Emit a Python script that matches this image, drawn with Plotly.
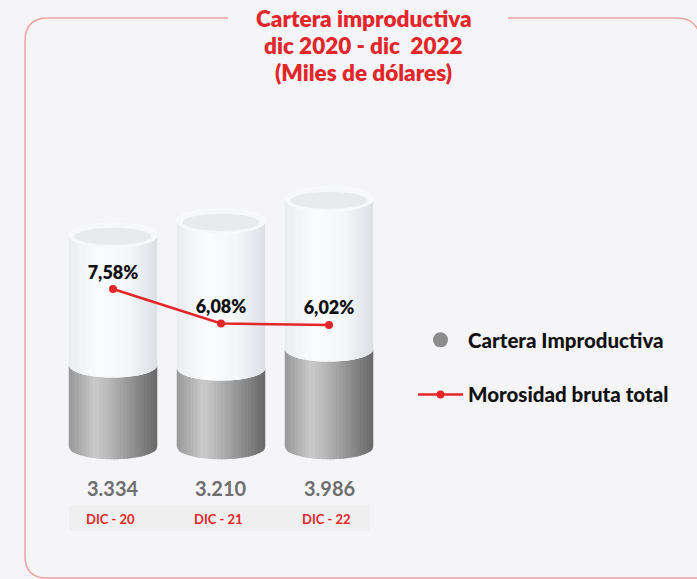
import numpy as np
import plotly.graph_objects as go

# datos (miles de dólares y %)
periodos = ["DIC - 20", "DIC - 21", "DIC - 22"]
cartera = [3334, 3210, 3986]
morosidad = [7.58, 6.08, 6.02]
etiquetas_cartera = ["3.334", "3.210", "3.986"]
etiquetas_morosidad = ["7,58%", "6,08%", "6,02%"]
titulo = ["Cartera improductiva", "dic 2020 - dic  2022", "(Miles de dólares)"]

# estilo de los cilindros (solo decorativo)
alto_cilindro = [8650, 9220, 10120]
rx, ry = 0.41, 500
n_tiras = 26
W, H = 697, 579
ROJO = "#e3262a"

pos = np.arange(len(periodos))


def color_grad(t, stops, cols):
    c = [np.interp(t, stops, [k[i] for k in cols]) for i in range(3)]
    return "rgb(%d,%d,%d)" % tuple(int(round(v)) for v in c)


def curva(xc, y, xs):
    return y - ry * np.sqrt(np.clip(1 - ((xs - xc) / rx) ** 2, 0, 1))


def tiras(y0s, y1s, stops, cols):
    trazas = []
    ancho = 2 * rx / n_tiras
    for i in range(n_tiras):
        xx, yy = [], []
        for c, y0, y1 in zip(pos, y0s, y1s):
            xa = c - rx + i * ancho
            xb = min(xa + ancho * 1.6, c + rx)
            xs = np.linspace(xa, xb, 5)
            xx += list(xs) + list(xs[::-1]) + [None]
            yy += list(curva(c, y0, xs)) + list(curva(c, y1, xs)[::-1]) + [None]
        t = (i + 0.5) / n_tiras
        col = color_grad(t, stops, cols)
        trazas.append(go.Scatter(x=xx, y=yy, mode="lines", fill="toself",
                                 fillcolor=col, line=dict(width=0, color=col),
                                 hoverinfo="skip", showlegend=False))
    return trazas


def elipse(cx, cy, a, b, n=80):
    th = np.linspace(0, 2 * np.pi, n)
    return cx + a * np.cos(th), cy + b * np.sin(th)


fig = go.Figure()

gris_t = [0, 0.3, 0.45, 0.75, 1]
gris_c = [(152, 152, 152), (202, 202, 202), (184, 184, 184), (140, 140, 140), (104, 104, 104)]
blanco_t = [0, 0.35, 0.7, 1]
blanco_c = [(234, 237, 240), (251, 252, 253), (243, 245, 247), (220, 224, 229)]

for tr in tiras([0, 0, 0], cartera, gris_t, gris_c):
    fig.add_trace(tr)
for tr in tiras(cartera, alto_cilindro, blanco_t, blanco_c):
    fig.add_trace(tr)

# tapas superiores
for c, top in zip(pos, alto_cilindro):
    ex, ey = elipse(c, top, rx, ry)
    fig.add_trace(go.Scatter(x=ex, y=ey, mode="lines", fill="toself", fillcolor="#f6f7f8",
                             line=dict(width=1, color="#fbfbfc"), hoverinfo="skip", showlegend=False))
    ex, ey = elipse(c, top - ry * 0.1, rx * 0.87, ry * 0.7)
    fig.add_trace(go.Scatter(x=ex, y=ey, mode="lines", fill="toself", fillcolor="#e8eaed",
                             line=dict(width=0, color="#e8eaed"), hoverinfo="skip", showlegend=False))

# leyenda
fig.add_trace(go.Scatter(x=[None], y=[None], mode="markers", name="Cartera Improductiva",
                         marker=dict(size=15, color="#8c8c8c"), legendgroup="a", legendrank=1))

fig.add_trace(go.Scatter(x=pos, y=morosidad, yaxis="y2", mode="lines+markers+text",
                         name="Morosidad bruta total", legendgroup="b", legendrank=2,
                         line=dict(color=ROJO, width=2.5), marker=dict(color=ROJO, size=8),
                         text=etiquetas_morosidad, textposition="top center",
                         textfont=dict(family="Lato", size=18, color="#111111", weight=800),
                         hoverinfo="skip"))

# valores y periodos
for c, v, p in zip(pos, etiquetas_cartera, periodos):
    fig.add_annotation(x=c, y=1 - 488 / H, yref="paper", yanchor="middle", text=v, showarrow=False,
                       font=dict(family="Lato", size=20, color="#6e6e6e", weight="bold"))
    fig.add_annotation(x=c - 0.02, y=1 - 519 / H, yref="paper", yanchor="middle", text=p,
                       showarrow=False, font=dict(family="Lato", size=13, color=ROJO, weight="bold"))

for k, linea in enumerate(titulo):
    fig.add_annotation(x=363.5 / W, y=1 - (19 + 26.5 * k) / H, xref="paper", yref="paper",
                       xanchor="center", yanchor="middle", showarrow=False, text=linea,
                       font=dict(family="Lato", size=22.5, color=ROJO, weight=800))


def px(x, y):
    return "%.4f,%.4f" % (x / W, 1 - y / H)


borde = ("M " + px(228, 18) + " L " + px(48, 18) + " Q " + px(25, 18) + " " + px(25, 41) +
         " L " + px(25, 556) + " Q " + px(25, 578) + " " + px(47, 578) + " L " + px(710, 578) +
         " M " + px(508, 18) + " L " + px(676, 18) + " Q " + px(700, 18) + " " + px(700, 42) +
         " L " + px(700, 578))

fig.add_shape(type="path", path=borde, xref="paper", yref="paper",
              line=dict(color="#f0a3a3", width=1.5), layer="below")
fig.add_shape(type="rect", x0=69 / W, x1=370 / W, y0=1 - 531 / H, y1=1 - 505 / H,
              xref="paper", yref="paper", fillcolor="#efefef", line=dict(width=0), layer="below")

fig.update_layout(
    width=W, height=H,
    margin=dict(l=0, r=0, t=0, b=0),
    paper_bgcolor="#f5f5f8", plot_bgcolor="#f5f5f8",
    xaxis=dict(range=[-113 / 108, (W - 113) / 108], visible=False, fixedrange=True),
    yaxis=dict(range=[-132 / 0.0245, 447 / 0.0245], visible=False, fixedrange=True),
    yaxis2=dict(range=[7.58 - 290 / 23, 7.58 + 289 / 23], overlaying="y", visible=False),
    legend=dict(x=413 / W, y=1 - 320 / H, xanchor="left", yanchor="top",
                bgcolor="rgba(0,0,0,0)", tracegroupgap=25, itemwidth=45,
                font=dict(family="Lato", size=20.5, color="#111111", weight=900)),
    font=dict(family="Lato"),
)

fig.write_html("out.html", config={"displayModeBar": False},
               post_script="document.body.style.margin='0';")
